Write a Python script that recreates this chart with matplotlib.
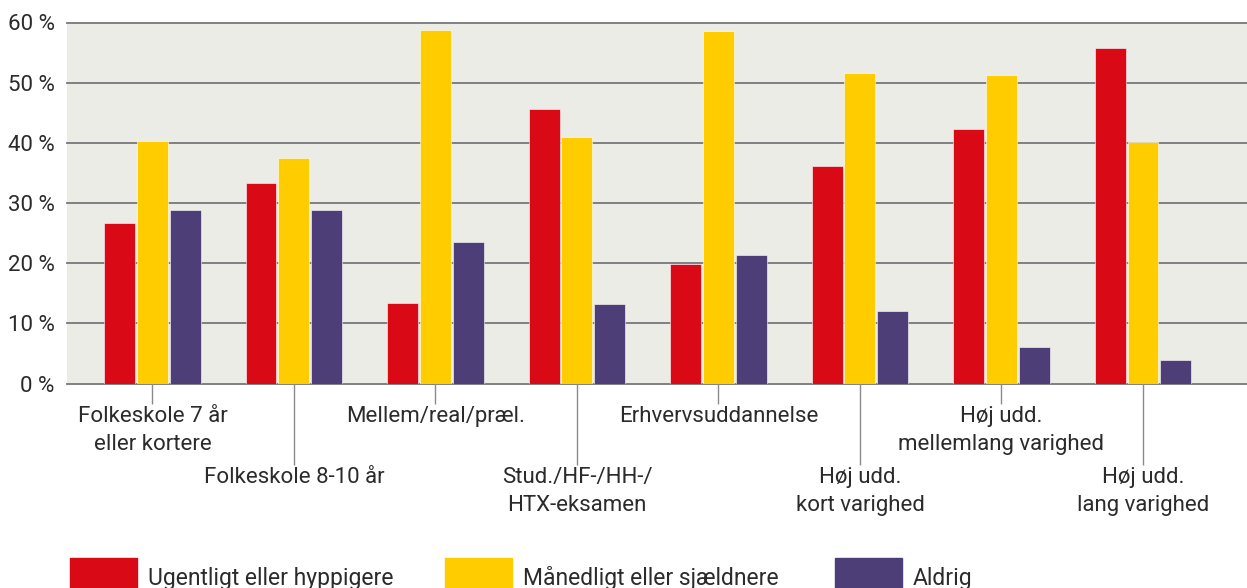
import numpy as np
import matplotlib.pyplot as plt
from matplotlib.patches import Rectangle

plt.rcParams['font.family'] = ['Roboto', 'DejaVu Sans']

# Education groups (x-axis), labels alternate between two rows
categories = [
    "Folkeskole 7 år\neller kortere",
    "Folkeskole 8-10 år",
    "Mellem/real/præl.",
    "Stud./HF-/HH-/\nHTX-eksamen",
    "Erhvervsuddannelse",
    "Høj udd.\nkort varighed",
    "Høj udd.\nmellemlang varighed",
    "Høj udd.\nlang varighed",
]

series_names = ["Ugentligt eller hyppigere", "Månedligt eller sjældnere", "Aldrig"]
weekly = [26.6, 33.4, 13.3, 45.6, 19.8, 36.1, 42.3, 55.7]
monthly = [40.3, 37.5, 58.8, 40.9, 58.6, 51.6, 51.2, 40.2]
never = [28.9, 28.8, 23.6, 13.2, 21.3, 12.0, 6.1, 3.9]

y_ticks = [0, 10, 20, 30, 40, 50, 60]

colors = ['#d90916', '#ffcc00', '#4d3e77']
bg = '#ecece7'
grid_col = '#77767c'
text_col = '#2b2b2b'
fs = 16

W, H = 1247, 588
fig = plt.figure(figsize=(W / 100, H / 100), dpi=100)
ax = fig.add_axes([67 / W, 1 - 383.5 / H, 1 - 67 / W, (383.5 - 22.5) / H])
ax.set_facecolor(bg)

x = np.arange(len(categories))
width = 0.219
step = 0.233
for i, (vals, c) in enumerate(zip([weekly, monthly, never], colors)):
    ax.bar(x + (i - 1) * step, vals, width, color=c, zorder=3,
           edgecolor='white', linewidth=0.4)

ax.set_xlim(-0.604, 7.735)
ax.set_ylim(0, 60)
ax.set_yticks(y_ticks)
ax.set_yticklabels([f"{v} %" for v in y_ticks])
for v in y_ticks:
    ax.axhline(v, color=grid_col, lw=1.3, zorder=1, clip_on=False)

for s in ax.spines.values():
    s.set_visible(False)

# short leaders for the upper row, long leaders for the lower row
ax.set_xticks(x[::2])
ax.set_xticklabels(categories[::2])
ax.set_xticks(x[1::2], minor=True)
ax.set_xticklabels(categories[1::2], minor=True)
ax.tick_params(axis='x', which='major', length=14.5, width=1, color='#8a8a8a',
               pad=2, labelsize=fs, labelcolor=text_col)
ax.tick_params(axis='x', which='minor', length=58, width=1, color='#8a8a8a',
               pad=2, labelsize=fs, labelcolor=text_col)
for lab in ax.get_xticklabels(which='both'):
    lab.set_linespacing(1.42)
ax.tick_params(axis='y', length=0, pad=9, labelsize=fs, labelcolor=text_col)

# legend along the bottom edge
leg_x = [70, 445, 835]
for lx, name, c in zip(leg_x, series_names, colors):
    fig.patches.append(Rectangle((lx / W, 0), 67 / W, 30 / H, color=c,
                                 transform=fig.transFigure, figure=fig))
    fig.text((lx + 78) / W, 1 - 578 / H, name, fontsize=16.5, color=text_col,
             va='center', ha='left')

fig.savefig('out.png', dpi=100, facecolor='white')
